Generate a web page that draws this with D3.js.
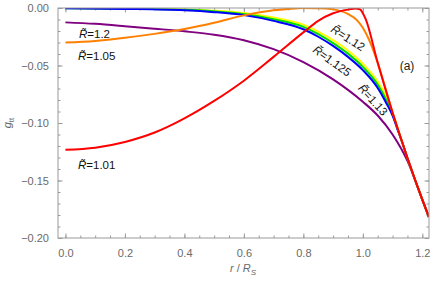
<!DOCTYPE html>
<meta charset="utf-8">
<script src="https://d3js.org/d3.v7.min.js"></script>
<style>
  body { margin: 0; background: #fff; }
  text { font-family: "Liberation Sans", Arial, sans-serif; }
</style>
<div id="my_dataviz"></div>
<script>

// values: r / R_S and g_tt for each curve
var rRed = [0, 0.1, 0.2, 0.3, 0.4, 0.5, 0.6, 0.7, 0.8, 0.85, 0.9, 0.95, 0.975, 0.99, 1.0, 1.01, 1.05, 1.1, 1.15, 1.2, 1.222];
var gRed = [-0.1233, -0.1215, -0.1165, -0.1083, -0.0960, -0.0808, -0.0632, -0.0425, -0.0212, -0.0112, -0.0046, -0.0014, -0.0005, -0.0011, -0.0045, -0.0099, -0.0476, -0.0909, -0.1304, -0.1667, -0.1817];

var rOrange = [0, 0.1, 0.2, 0.3, 0.4, 0.5, 0.6, 0.7, 0.75, 0.8, 0.85, 0.9, 0.95, 0.98, 1.0, 1.025, 1.05, 1.1, 1.15, 1.2, 1.222];
var gOrange = [-0.0300, -0.0286, -0.0258, -0.0225, -0.0183, -0.0128, -0.0064, -0.0020, -0.0008, -0.0001, -0.0002, -0.0012, -0.0052, -0.0105, -0.0172, -0.0300, -0.0476, -0.0909, -0.1304, -0.1667, -0.1817];

var rPurple = [0, 0.1, 0.2, 0.3, 0.4, 0.5, 0.6, 0.7, 0.8, 0.9, 1.0, 1.05, 1.1, 1.15, 1.2, 1.222];
var gPurple = [-0.0125, -0.0138, -0.0158, -0.0180, -0.0203, -0.0232, -0.0280, -0.0358, -0.0470, -0.0620, -0.0815, -0.0935, -0.1100, -0.1330, -0.1667, -0.1817];

var rBand = [0, 0.2, 0.4, 0.5, 0.6, 0.7, 0.8, 0.85, 0.9, 0.95, 1.0, 1.05, 1.08, 1.1, 1.12, 1.13, 1.15, 1.2, 1.222];
var gYellow = [-0.0001, -0.0004, -0.0012, -0.0023, -0.0043, -0.0083, -0.0145, -0.0205, -0.0280, -0.0370, -0.0485, -0.0640, -0.0782, -0.0912, -0.1071, -0.1150, -0.1304, -0.1667, -0.1817];
var gGreen = [-0.0002, -0.0006, -0.0016, -0.0029, -0.0052, -0.0097, -0.0164, -0.0227, -0.0305, -0.0397, -0.0512, -0.0666, -0.0806, -0.0921, -0.1073, -0.1150, -0.1304, -0.1667, -0.1817];
var gBlue = [-0.0003, -0.0008, -0.0020, -0.0036, -0.0062, -0.0112, -0.0185, -0.0250, -0.0330, -0.0425, -0.0540, -0.0695, -0.0832, -0.0936, -0.1080, -0.1150, -0.1304, -0.1667, -0.1817];

var xTicks = [0, 0.2, 0.4, 0.6, 0.8, 1.0, 1.2];
var yTicks = [-0.20, -0.15, -0.10, -0.05, 0.00];

// curve labels (R tilde values)
var labelText = ["1.2", "1.05", "1.01", "1.12", "1.125", "1.13"];

// dimensions
var margin = {top: 8, right: 7, bottom: 47, left: 58},
    width = 436 - margin.left - margin.right,
    height = 285 - margin.top - margin.bottom;

var svg = d3.select("#my_dataviz")
  .append("svg")
    .attr("width", 436)
    .attr("height", 285)
  .append("g")
    .attr("transform", "translate(" + margin.left + "," + margin.top + ")");

var x = d3.scaleLinear().domain([-0.025, 1.2225]).range([0, width]);
var y = d3.scaleLinear().domain([-0.2, 0]).range([height, 0]);

var frameCol = "#9a9a9a", labelCol = "#6a6a6a";

// ticks, all pointing inward, on every side
function styleAxis(g) {
  g.select(".domain").remove();
  g.selectAll("line").attr("stroke", frameCol);
  g.selectAll("text").attr("fill", labelCol).style("font-size", "11px");
}
var xMinor = d3.range(0, 1.2001, 0.05);
var yMinor = d3.range(-0.2, 0.0001, 0.01);

svg.append("g").attr("transform", "translate(0," + height + ")")
  .call(d3.axisBottom(x).tickValues(xMinor).tickSize(-2.5).tickFormat("")).call(styleAxis);
svg.append("g").attr("transform", "translate(0," + height + ")")
  .call(d3.axisBottom(x).tickValues(xTicks).tickSize(-4.5).tickPadding(11).tickFormat(d3.format(".1f"))).call(styleAxis);
svg.append("g")
  .call(d3.axisTop(x).tickValues(xMinor).tickSize(-2.5).tickFormat("")).call(styleAxis);
svg.append("g")
  .call(d3.axisTop(x).tickValues(xTicks).tickSize(-4.5).tickFormat("")).call(styleAxis);

svg.append("g")
  .call(d3.axisLeft(y).tickValues(yMinor).tickSize(-2.5).tickFormat("")).call(styleAxis);
svg.append("g")
  .call(d3.axisLeft(y).tickValues(yTicks).tickSize(-4.5).tickPadding(9).tickFormat(d3.format(".2f"))).call(styleAxis);
svg.append("g").attr("transform", "translate(" + width + ",0)")
  .call(d3.axisRight(y).tickValues(yMinor).tickSize(-2.5).tickFormat("")).call(styleAxis);
svg.append("g").attr("transform", "translate(" + width + ",0)")
  .call(d3.axisRight(y).tickValues(yTicks).tickSize(-4.5).tickFormat("")).call(styleAxis);

// curves
svg.append("clipPath").attr("id", "clip")
  .append("rect").attr("width", width).attr("height", height);

function pts(rs, gs) { return rs.map(function(r, i) { return [r, gs[i]]; }); }
var series = [
  {pts: pts(rPurple, gPurple), col: "#800080"},
  {pts: pts(rBand, gYellow), col: "#ffff00"},
  {pts: pts(rBand, gGreen), col: "#00dd00"},
  {pts: pts(rBand, gBlue), col: "#0000ff"},
  {pts: pts(rOrange, gOrange), col: "#ff8000"},
  {pts: pts(rRed, gRed), col: "#ff0000"}
];

var line = d3.line()
  .x(function(d) { return x(d[0]); })
  .y(function(d) { return y(d[1]); })
  .curve(d3.curveMonotoneX);

svg.append("g").attr("clip-path", "url(#clip)")
  .selectAll("path")
  .data(series)
  .enter()
  .append("path")
    .attr("d", function(d) { return line(d.pts); })
    .attr("fill", "none")
    .attr("stroke", function(d) { return d.col; })
    .attr("stroke-width", 2);

// frame
svg.append("rect")
  .attr("width", width).attr("height", height)
  .attr("fill", "none").attr("stroke", frameCol).attr("stroke-width", 1);

// curve labels: position in pixels, rotation
var labelPos = [
  [21, 26, 0], [20, 48, 0], [20, 157, 0],
  [290, 30, 33], [274, 53, 36], [315, 92, 48]
];
labelPos.forEach(function(p, i) {
  var t = svg.append("text")
    .attr("transform", "translate(" + p[0] + "," + p[1] + ") rotate(" + p[2] + ")")
    .attr("text-anchor", p[2] ? "middle" : "start")
    .attr("dy", "0.35em")
    .style("font-size", "11.5px")
    .attr("fill", "#111");
  t.append("tspan").style("font-style", "italic").text("R\u0303");
  t.append("tspan").text("=" + labelText[i]);
});

svg.append("text")
  .attr("x", 349).attr("y", 58).attr("dy", "0.35em")
  .attr("text-anchor", "middle")
  .style("font-size", "12px").attr("fill", "#222")
  .text("(a)");

// axis titles
var xt = svg.append("text")
  .attr("x", 185).attr("y", height + 34)
  .attr("text-anchor", "middle")
  .style("font-size", "11px").attr("fill", labelCol);
xt.append("tspan").style("font-style", "italic").text("r");
xt.append("tspan").text(" / ");
xt.append("tspan").style("font-style", "italic").text("R");
xt.append("tspan").attr("dy", 3).style("font-size", "8px").style("font-style", "italic").text("S");

var yt = svg.append("text")
  .attr("transform", "translate(-47," + (height / 2) + ") rotate(-90)")
  .attr("text-anchor", "middle")
  .style("font-size", "11px").attr("fill", labelCol);
yt.append("tspan").style("font-style", "italic").text("g");
yt.append("tspan").attr("dy", 3).style("font-size", "8px").text("tt");

</script>
